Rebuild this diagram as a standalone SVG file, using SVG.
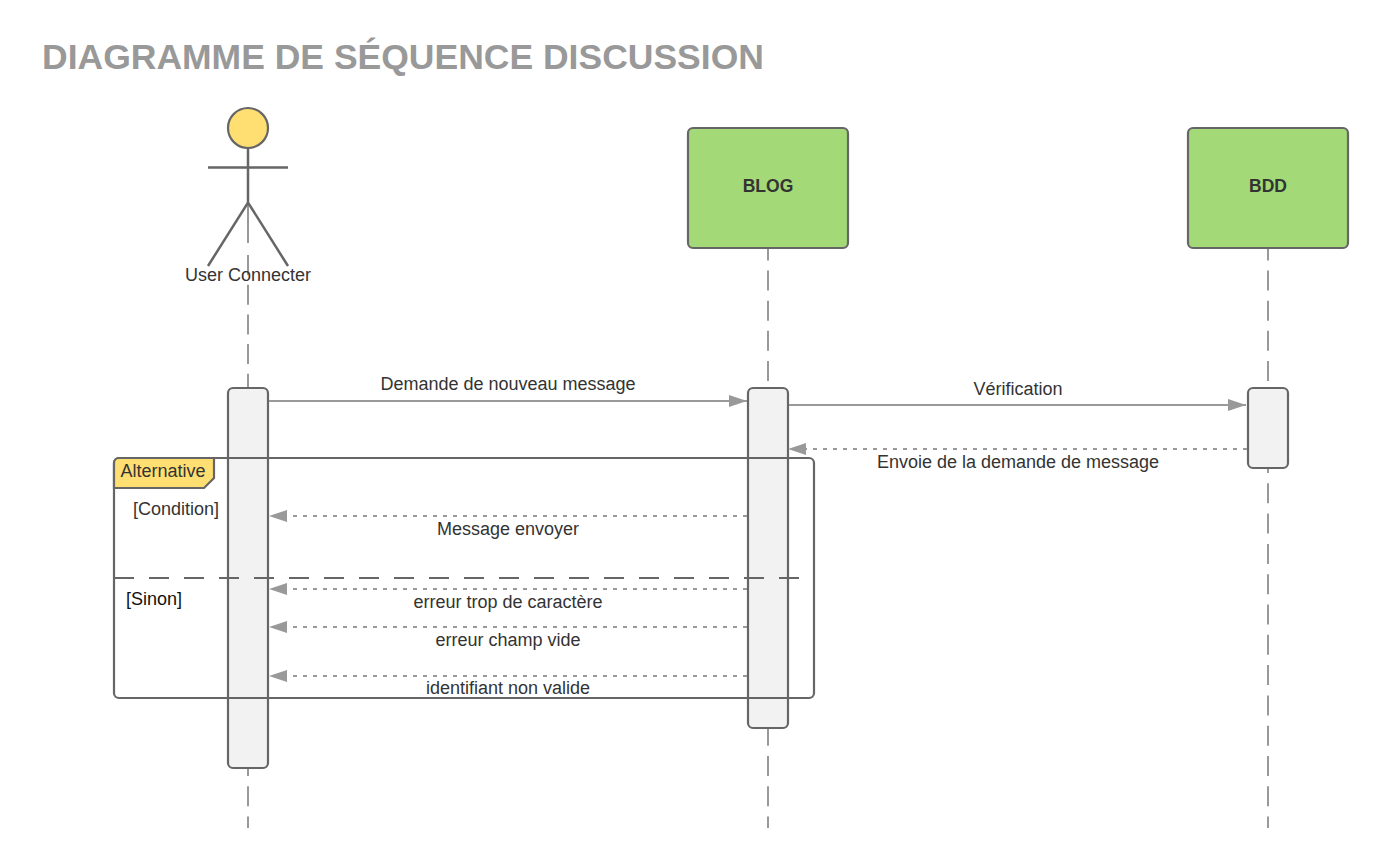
<svg xmlns="http://www.w3.org/2000/svg" width="1388" height="868" viewBox="0 0 1388 868">
<style>
text{font-family:"Liberation Sans",Arial,sans-serif;font-size:18px;fill:#333}
.m{text-anchor:middle}
.life{stroke:#999;stroke-width:2;fill:none}
.up{stroke-dasharray:20 10.1}
.lo{stroke-dasharray:20 10.3}
.sh{stroke:#666;stroke-width:2.200}
.act{fill:#f2f2f2;stroke:#666;stroke-width:2.200}
.msg{stroke:#999;stroke-width:2;fill:none;marker-end:url(#ah)}
.ret{stroke-dasharray:4 6}
.box{fill:#a3d977;stroke:#666;stroke-width:2.200}
.bt{font-weight:bold;font-size:17.500px}
</style>
<defs><marker id="ah" markerUnits="userSpaceOnUse" markerWidth="20" markerHeight="14" refX="18" refY="6" orient="auto"><path d="M0 0L18 6L0 12Z" fill="#999"/></marker></defs>
<rect width="1388" height="868" fill="#fff"/>
<text x="42" y="68.500" style="font-size:35.500px;font-weight:bold;fill:#999">DIAGRAMME DE SÉQUENCE DISCUSSION</text>
<g id="lifelines">
<path class="life" d="M248 205V243"/>
<path class="life" style="stroke-dasharray:20 9.700" d="M248 255V388"/>
<path class="life lo" d="M248 453V828"/>
<path class="life up" d="M768 240.500V388"/>
<path class="life lo" d="M768 453V828"/>
<path class="life up" d="M1268 240.500V388"/>
<path class="life lo" d="M1268 453V828"/>
</g>
<g id="actor-user">
<circle cx="248" cy="128" r="20" fill="#ffdf71" class="sh"/>
<path class="sh" style="stroke-width:2.500" fill="none" d="M248 148V202M208 167.500H288M208 266L248 202.500L288 266"/>
<text class="m" x="248" y="280.500">User Connecter</text>
</g>
<g id="node-blog"><rect class="box" x="688" y="128" width="160" height="120" rx="5"/><text class="m bt" x="768" y="191.500">BLOG</text></g>
<g id="node-bdd"><rect class="box" x="1188" y="128" width="160" height="120" rx="5"/><text class="m bt" x="1268" y="191.500">BDD</text></g>
<g id="activation-user"><rect class="act" x="228" y="388" width="40" height="380" rx="5"/></g>
<g id="activation-blog"><rect class="act" x="748" y="388" width="40" height="340" rx="5"/></g>
<g id="activation-bdd"><rect class="act" x="1248" y="388" width="40" height="80" rx="5"/></g>
<g id="fragment-alt">
<rect x="114" y="458" width="700" height="240" rx="5" fill="none" class="sh"/>
<path d="M114 488V463a5 5 0 0 1 5-5H214V478L204 488Z" fill="#ffdf71" class="sh"/>
<path d="M114 578H800" fill="none" class="sh" style="stroke-dasharray:20 15"/>
<text x="120.500" y="477">Alternative</text>
<text x="133" y="514.500">[Condition]</text>
<text x="126" y="604.500" style="fill:#111">[Sinon]</text>
</g>
<g id="connectors">
<path class="msg" d="M269 401H747"/>
<path class="msg" d="M789 405H1246"/>
<path class="msg ret" d="M1247 449H788"/>
<path class="msg ret" d="M747 516H269"/>
<path class="msg ret" d="M747 589H269"/>
<path class="msg ret" d="M747 627H269"/>
<path class="msg ret" d="M747 676H269"/>
</g>
<g id="labels">
<text class="m" x="508" y="389.500">Demande de nouveau message</text>
<text class="m" x="1018" y="394.500">Vérification</text>
<text class="m" x="1018" y="468">Envoie de la demande de message</text>
<text class="m" x="508" y="534.500">Message envoyer</text>
<text class="m" x="508" y="608">erreur trop de caractère</text>
<text class="m" x="508" y="645.500">erreur champ vide</text>
<text class="m" x="508" y="694">identifiant non valide</text>
</g>
</svg>
